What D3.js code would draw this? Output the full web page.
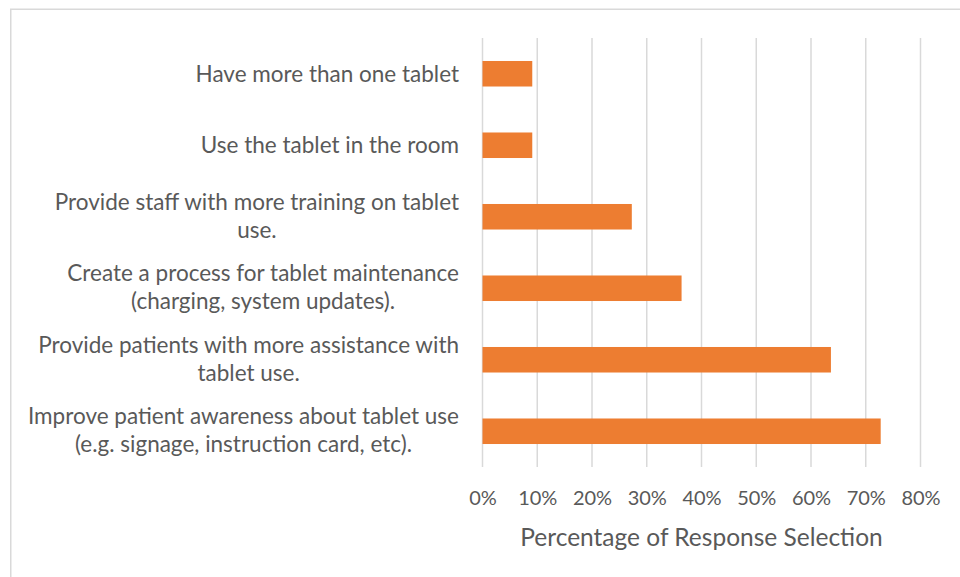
<!DOCTYPE html>
<html>
<head>
<meta charset="utf-8">
<script src="https://cdn.jsdelivr.net/npm/d3@7"></script>
<style>
  html, body { margin: 0; padding: 0; background: #fff; }
  svg { display: block; }
  text { font-family: Lato, "Open Sans", sans-serif; fill: #595959; }
</style>
</head>
<body>
<svg id="chart" width="960" height="577"></svg>
<script>
// Suggested improvements, top to bottom, with each line of the wrapped label
const categories = [
  ["Have more than one tablet"],
  ["Use the tablet in the room"],
  ["Provide staff with more training on tablet", "use."],
  ["Create a process for tablet maintenance", "(charging, system updates)."],
  ["Provide patients with more assistance with", "tablet use."],
  ["Improve patient awareness about tablet use", "(e.g. signage, instruction card, etc)."]
];
// Share of respondents selecting each option (%)
const values = [9.09, 9.09, 27.27, 36.36, 63.64, 72.73];
const xTicks = [0, 10, 20, 30, 40, 50, 60, 70, 80];
const xTitle = "Percentage of Response Selection";

const svg = d3.select("#chart");
const plot = { left: 482.5, right: 920.5, top: 38, bottom: 467 };

// Chart frame
svg.append("rect")
  .attr("x", 10.75).attr("y", 9.25)
  .attr("width", 980).attr("height", 600)
  .attr("fill", "none").attr("stroke", "#d9d9d9").attr("stroke-width", 1.5);

const x = d3.scaleLinear().domain([0, 80]).range([plot.left, plot.right]);
const y = d3.scaleBand()
  .domain(d3.range(categories.length))
  .range([plot.top, plot.bottom])
  .paddingInner(0.643).paddingOuter(0.3215);

// Vertical gridlines
svg.append("g")
  .selectAll("line")
  .data(xTicks)
  .join("line")
  .attr("x1", d => x(d)).attr("x2", d => x(d))
  .attr("y1", plot.top).attr("y2", plot.bottom)
  .attr("stroke", "#d9d9d9").attr("stroke-width", 1.5);

// Bars
svg.append("g")
  .selectAll("rect")
  .data(values)
  .join("rect")
  .attr("x", x(0))
  .attr("y", (d, i) => y(i))
  .attr("width", d => x(d) - x(0))
  .attr("height", y.bandwidth())
  .attr("fill", "#ED7D31");

// X axis tick labels
const xAxis = d3.axisBottom(x)
  .tickValues(xTicks)
  .tickFormat(d => d + "%")
  .tickSize(0)
  .tickPadding(24);
const gx = svg.append("g")
  .attr("transform", `translate(0,${plot.bottom})`)
  .call(xAxis);
gx.select(".domain").remove();
gx.selectAll("text")
  .attr("font-size", 20)
  .attr("font-family", "Lato, sans-serif")
  .attr("fill", "#595959");

// Category labels: lines centered on each other, block right-aligned to the axis
const lineH = 28;
const labelG = svg.append("g");
categories.forEach((lines, i) => {
  const cy = y(i) + y.bandwidth() / 2 - (lines.length > 1 ? 1 : 0);
  const g = labelG.append("g");
  const t = g.append("text")
    .attr("font-size", 22.5)
    .attr("text-anchor", "middle");
  lines.forEach((ln, k) => {
    t.append("tspan")
      .attr("x", 0)
      .attr("y", cy + (k - (lines.length - 1) / 2) * lineH)
      .attr("dy", "0.35em")
      .text(ln);
  });
  const bb = t.node().getBBox();
  g.attr("transform", `translate(${459 - bb.width / 2},0)`);
});

// Axis title
svg.append("text")
  .attr("x", (520 + 883) / 2)
  .attr("y", 537)
  .attr("dy", "0.35em")
  .attr("text-anchor", "middle")
  .attr("font-size", 24.5)
  .text(xTitle);
</script>
</body>
</html>
